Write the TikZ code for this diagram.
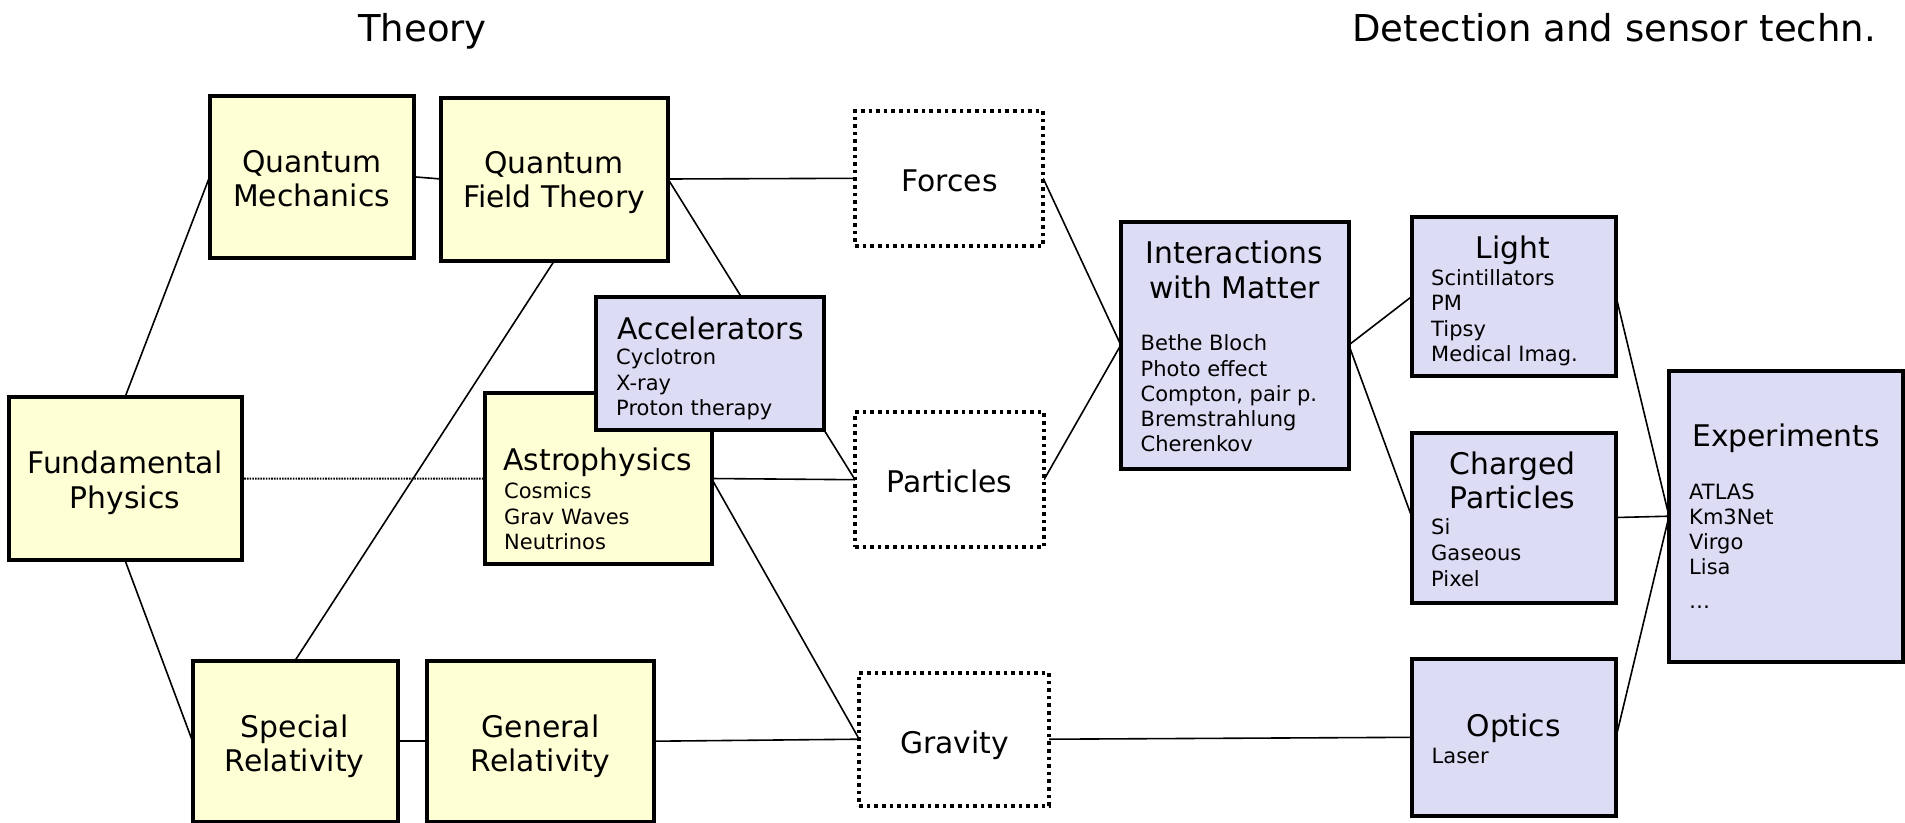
\documentclass[tikz,border=0pt]{standalone}
\usepackage{fontspec}
\setmainfont{DejaVu Sans}
\usetikzlibrary{backgrounds}
\definecolor{yfill}{RGB}{255,255,213}
\definecolor{pfill}{RGB}{220,220,245}
\tikzset{
  box/.style={draw, line width=4pt, inner sep=0pt, outer sep=0pt},
  ybox/.style={box, fill=yfill},
  pbox/.style={box, fill=pfill},
  dbox/.style={draw, fill=white, line width=3.6pt, dash pattern=on 3.6pt off 4pt, inner sep=0pt, outer sep=0pt},
  ttl/.style={inner sep=0pt, font=\fontsize{29.8}{34.5}\selectfont, align=center},
  itm/.style={inner sep=0pt, font=\fontsize{21}{25.4}\selectfont, align=left, anchor=north west},
  hdr/.style={inner sep=0pt, font=\fontsize{37}{44}\selectfont, anchor=base},
  conn/.style={line width=1.6pt},
  dconn/.style={line width=2pt, dash pattern=on 1.6pt off 1.1pt}
}
\begin{document}
\begin{tikzpicture}[x=1pt,y=-1pt]
\useasboundingbox (0,0) rectangle (1905,822);

% headers
\node[hdr] (hTheory) at (422.5,41) {Theory};
\node[hdr] (hDet) at (1614,41) {Detection and sensor techn.};

% boxes
\node[ybox, minimum width=233pt, minimum height=163pt] (fp) at (125,478.7) {};
\node[ybox, minimum width=204pt, minimum height=162pt] (qm) at (311.6,176.8) {};
\node[ybox, minimum width=227pt, minimum height=163pt] (qft) at (554.5,179) {};
\node[ybox, minimum width=227pt, minimum height=171pt] (astro) at (598,478.5) {};
\node[pbox, minimum width=228pt, minimum height=132.5pt] (acc) at (710.2,363.7) {};
\node[ybox, minimum width=205pt, minimum height=161pt] (sr) at (295,741.2) {};
\node[ybox, minimum width=227pt, minimum height=161pt] (gr) at (540.5,741.2) {};
\node[dbox, minimum width=188pt, minimum height=135pt] (forces) at (949.2,178.3) {};
\node[dbox, minimum width=189pt, minimum height=135pt] (particles) at (949.5,479.7) {};
\node[dbox, minimum width=190pt, minimum height=133pt] (gravity) at (954.2,739.2) {};
\node[pbox, minimum width=228pt, minimum height=247pt] (inter) at (1234.8,345) {};
\node[pbox, minimum width=204pt, minimum height=159pt] (light) at (1514,296.3) {};
\node[pbox, minimum width=204pt, minimum height=170pt] (charged) at (1514,517.5) {};
\node[pbox, minimum width=204pt, minimum height=157pt] (optics) at (1514,737.3) {};
\node[pbox, minimum width=234pt, minimum height=291pt] (exp) at (1786,516.2) {};

% texts
\begin{scope}[yshift=-1.3pt]
\node[ttl, anchor=north] (tfp) at (125,449.6) {Fundamental\\Physics};
\node[ttl, anchor=north] (tqm) at (311.6,148.4) {Quantum\\Mechanics};
\node[ttl, anchor=north] (tqft) at (554,149.6) {Quantum\\Field Theory};
\node[ttl, anchor=base] (tacc) at (710.8,338.3) {Accelerators};
\node[itm] (iacc) at (616,347.3) {Cyclotron\\X-ray\\Proton therapy};
\node[ttl, anchor=base] (tastro) at (597.7,469.6) {Astrophysics};
\node[itm] (iastro) at (504,481.2) {Cosmics\\Grav Waves\\Neutrinos};
\node[ttl, anchor=north] (tsr) at (294.6,713.1) {Special\\Relativity};
\node[ttl, anchor=north] (tgr) at (540.6,713.1) {General\\Relativity};
\node[ttl, anchor=base] (tforces) at (949.5,190) {Forces};
\node[ttl, anchor=base] (tparticles) at (949.5,491) {Particles};
\node[ttl, anchor=base] (tgravity) at (954.5,751.7) {Gravity};
\node[ttl, anchor=north] (tinter) at (1234.4,239.6) {Interactions\\with Matter};
\node[itm, font=\fontsize{21}{25.2}\selectfont] (iinter) at (1140.5,333.5) {Bethe Bloch\\Photo effect\\Compton, pair p.\\Bremstrahlung\\Cherenkov};
\node[ttl, anchor=base] (tlight) at (1512.6,256.8) {Light};
\node[itm] (ilight) at (1431,268) {Scintillators\\PM\\Tipsy\\Medical Imag.};
\node[ttl, anchor=north] (tcharged) at (1512.6,450.1) {Charged\\Particles};
\node[itm, font=\fontsize{21}{25.7}\selectfont] (icharged) at (1431,517.5) {Si\\Gaseous\\Pixel};
\node[ttl, anchor=base] (toptics) at (1513.7,735) {Optics};
\node[itm, anchor=base west] (ioptics) at (1431.5,762.5) {Laser};
\node[ttl, anchor=base] (texp) at (1786,445) {Experiments};
\node[itm, font=\fontsize{21}{25}\selectfont] (iexp) at (1689,482) {ATLAS\\Km3Net\\Virgo\\Lisa\\[9.7pt]\dots};
\end{scope}

% connectors
\begin{scope}[on background layer]
\draw[conn] (fp.north) -- (qm.west);
\draw[conn] (fp.south) -- (sr.west);
\draw[conn] (qm.east) -- (qft.west);
\draw[conn] (qft.east) -- (forces.west);
\draw[conn] (qft.east) -- (particles.west);
\draw[conn] (qft.south) -- (sr.north);
\draw[dconn] (fp.east) -- (astro.west);
\draw[conn] (astro.east) -- (particles.west);
\draw[conn] (astro.east) -- (gravity.west);
\draw[conn] (sr.east) -- (gr.west);
\draw[conn] (gr.east) -- (gravity.west);
\draw[conn] (forces.east) -- (inter.west);
\draw[conn] (particles.east) -- (inter.west);
\draw[conn] (inter.east) -- (light.west);
\draw[conn] (inter.east) -- (charged.west);
\draw[conn] (gravity.east) -- (optics.west);
\draw[conn] (light.east) -- (exp.west);
\draw[conn] (charged.east) -- (exp.west);
\draw[conn] (optics.east) -- (exp.west);
\end{scope}
\end{tikzpicture}
\end{document}
